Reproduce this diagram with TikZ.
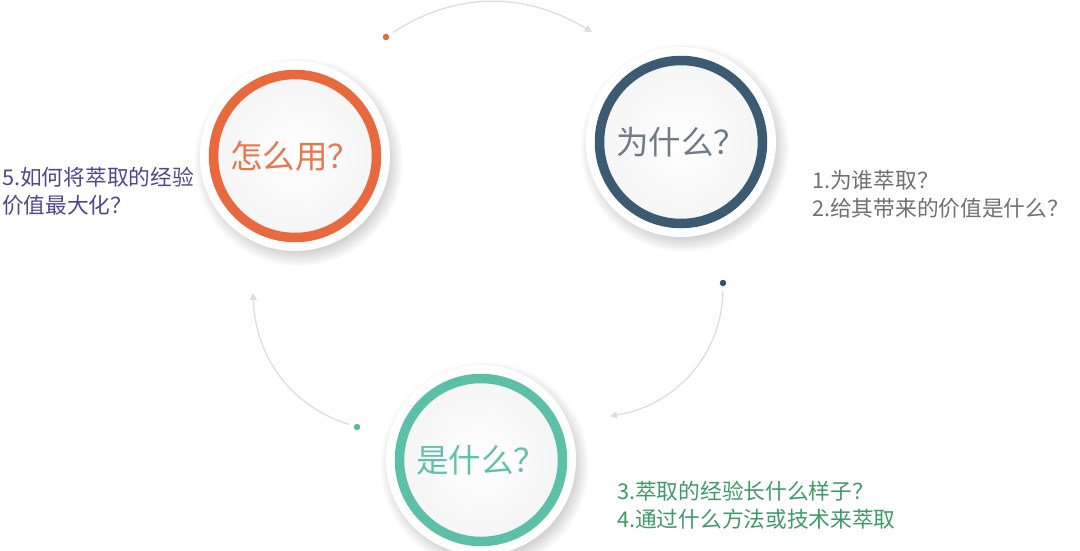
\documentclass[tikz,border=0pt]{standalone}
\usepackage{fontspec}
\setmainfont{Noto Sans CJK SC}
\usetikzlibrary{arrows.meta,shadows}
\definecolor{orR}{HTML}{E8693D}
\definecolor{blR}{HTML}{3D5A73}
\definecolor{tlR}{HTML}{5CBFA7}
\definecolor{orT}{HTML}{EA7650}
\definecolor{blT}{HTML}{6E7A86}
\definecolor{tlT}{HTML}{62C1AA}
\definecolor{leftT}{HTML}{4D4A8C}
\definecolor{rightT}{HTML}{707070}
\definecolor{botT}{HTML}{3F9B66}
\definecolor{arcG}{HTML}{DDDDDD}
\definecolor{dotO}{HTML}{D9703F}
\definecolor{dotB}{HTML}{3D4F60}
\definecolor{dotT}{HTML}{5CB8A0}
\begin{document}
\begin{tikzpicture}[x=1pt,y=1pt,
  rim/.style={circle, minimum size=190pt, inner sep=0pt, fill=white,
    circular drop shadow={shadow xshift=3pt, shadow yshift=-5pt, opacity=.35}},
  ring/.style={circle, minimum size=163pt, inner sep=0pt, line width=9.5pt, draw=#1,
    inner color=white, outer color=black!4},
  title/.style={font=\fontsize{32.5}{36}\selectfont, text=#1},
  note/.style={font=\fontsize{21.7}{28}\selectfont, align=left, anchor=west, inner sep=0pt, text=#1},
  dotm/.style={circle, fill=#1, minimum size=6.5pt, inner sep=0pt},
  flow/.style={draw=arcG, line width=1.3pt, -{Triangle[length=7pt,width=7pt]}, shorten <=5pt}
]
\useasboundingbox (0,0) rectangle (1080,-550);
\fill[white] (0,0) rectangle (1080,-550);

% circles
\node[rim] (rimU) at (295,-156) {};
\node[ring=orR, title=orT] (use) at (295,-156) {怎么用？};
\node[rim] (rimW) at (681,-142) {};
\node[ring=blR, title=blT] (why) at (681,-142) {为什么？};
\node[rim] (rimS) at (481,-460) {};
\node[ring=tlR, title=tlT] (what) at (481,-460) {是什么？};

% notes
\node[note=leftT] (nU) at (2,-191) {5.如何将萃取的经验\\价值最大化？};
\node[note=rightT] (nW) at (812,-194) {1.为谁萃取？\\2.给其带来的价值是什么？};
\node[note=botT] (nS) at (617,-505) {3.萃取的经验长什么样子？\\4.通过什么方法或技术来萃取};

% dots and arrow ends
\node[dotm=dotO] (d1) at (386,-37) {};
\node[dotm=dotB] (d2) at (723,-283) {};
\node[dotm=dotT] (d3) at (357,-427) {};
\coordinate (e1) at (592,-32);
\coordinate (e2) at (610,-416);
\coordinate (e3) at (253,-293);

\draw[flow] (d1) to[bend left=32] (e1);
\draw[flow] (d2) to[bend left=40] (e2);
\draw[flow] (d3) to[bend left=35] (e3);
\end{tikzpicture}
\end{document}
